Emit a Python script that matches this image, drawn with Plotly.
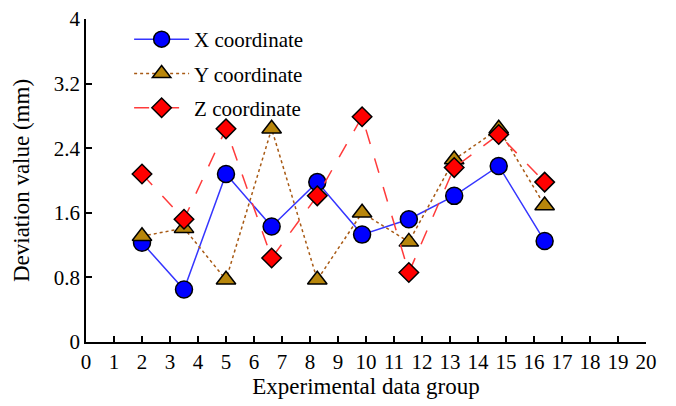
import plotly.graph_objects as go

groups_x = [2.0, 3.5, 5.0, 6.63, 8.26, 9.86, 11.53, 13.15, 14.74, 16.38]
x_coord = [1.23, 0.65, 2.08, 1.43, 1.98, 1.33, 1.52, 1.81, 2.18, 1.25]
y_coord = [1.31, 1.41, 0.77, 2.64, 0.77, 1.60, 1.24, 2.26, 2.64, 1.69]
z_coord = [2.08, 1.52, 2.64, 1.04, 1.81, 2.79, 0.86, 2.16, 2.57, 1.98]

y_ticks = [0, 0.8, 1.6, 2.4, 3.2, 4]
y_tick_text = ["0", "0.8", "1.6", "2.4", "3.2", "4"]
x_ticks = list(range(0, 21))

font_family = "Liberation Serif"

fig = go.Figure()
fig.add_trace(go.Scatter(
    x=groups_x, y=x_coord, name="X coordinate", mode="lines+markers",
    legendgroup="a",
    line=dict(color="#3535ff", width=1.5, dash="solid"),
    marker=dict(symbol="circle", size=17, color="#0000ff",
                line=dict(color="black", width=1.5)),
))
fig.add_trace(go.Scatter(
    x=groups_x, y=y_coord, name="Y coordinate", mode="lines+markers",
    legendgroup="b",
    line=dict(color="#a85a14", width=1.5, dash="dot"),
    marker=dict(symbol="triangle-up", size=17, color="#b8860b",
                line=dict(color="black", width=1.5)),
))
fig.add_trace(go.Scatter(
    x=groups_x, y=z_coord, name="Z coordinate", mode="lines+markers",
    legendgroup="c",
    line=dict(color="#ff3b3b", width=1.5, dash="longdash"),
    marker=dict(symbol="diamond", size=15, color="#ff0000",
                line=dict(color="black", width=1.5)),
))

fig.update_layout(
    width=668, height=398,
    margin=dict(l=78, r=30, t=11, b=64),
    paper_bgcolor="white", plot_bgcolor="white",
    font=dict(family=font_family, size=20, color="black"),
    showlegend=True,
    legend=dict(x=0.077, y=1.0, xanchor="left", yanchor="top",
                bgcolor="rgba(0,0,0,0)",
                font=dict(family=font_family, size=21, color="black"),
                itemwidth=55, tracegroupgap=4, traceorder="grouped"),
    xaxis=dict(range=[0, 20], tickmode="array", tickvals=x_ticks,
               ticks="inside", ticklen=6, tickwidth=1.5, tickcolor="black",
               showline=True, linecolor="black", linewidth=1.5,
               showgrid=False, zeroline=False, automargin=False,
               ticklabeloverflow="allow",
               tickfont=dict(family=font_family, size=21),
               title=dict(text="Experimental data group",
                          font=dict(family=font_family, size=23), standoff=2)),
    yaxis=dict(range=[0, 4], tickmode="array", tickvals=y_ticks, ticktext=y_tick_text,
               ticks="inside", ticklen=6, tickwidth=1.5, tickcolor="black",
               showline=True, linecolor="black", linewidth=1.5,
               showgrid=False, zeroline=False, automargin=False,
               ticklabeloverflow="allow",
               tickfont=dict(family=font_family, size=21),
               title=dict(text="Deviation value (mm)",
                          font=dict(family=font_family, size=23), standoff=18)),
)

fig.write_html("out.html")
